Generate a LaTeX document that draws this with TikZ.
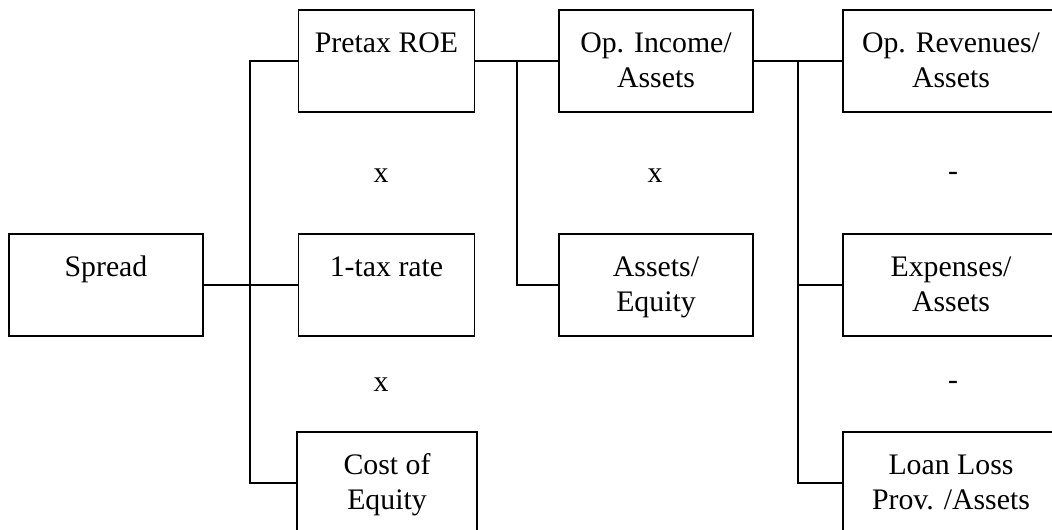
\documentclass[tikz,border=0pt]{standalone}
\usepackage{fontspec}
\setmainfont{Liberation Serif}
\usetikzlibrary{positioning}

\tikzset{
	box/.style={draw, line width=0.6pt, minimum height=51pt, inner sep=0pt},
	boxtext/.style={anchor=base, align=center, inner sep=0pt,
		font=\fontsize{14.9}{17.5}\selectfont, label distance=-21.5pt},
	boxtexttwo/.style={boxtext, label distance=-39pt},
	wire/.style={line width=0.6pt},
	sign/.style={font=\fontsize{14.9}{17.5}\selectfont}
}

\begin{document}
\begin{tikzpicture}[x=0.5pt, y=-0.5pt]
		%%%%% START %%%%%
		\useasboundingbox (0, 0) rectangle (1052, 529);
		\clip (0, 0) rectangle (1052, 529);
		
		% left
		\node[box, minimum width=97pt, label={[boxtext]north:Spread}] (spread) at (106, 285) {};
		
		% second column
		\node[box, minimum width=88pt, label={[boxtext]north:Pretax ROE}] (roe) at (386.5, 61) {};
		\node[box, minimum width=88pt, label={[boxtext]north:1-tax rate}] (tax) at (386.5, 285) {};
		\node[box, minimum width=90pt, label={[boxtexttwo]north:Cost of\\Equity}] (coe) at (387, 483) {};
		
		% third column
		\node[box, minimum width=97pt, label={[boxtexttwo]north:Op. Income/\\Assets}] (opinc) at (656, 61) {};
		\node[box, minimum width=97pt, label={[boxtexttwo]north:Assets/\\Equity}] (lev) at (656, 285) {};
		
		% fourth column
		\node[box, minimum width=108pt, label={[boxtexttwo]north:Op. Revenues/\\Assets}] (oprev) at (951, 61) {};
		\node[box, minimum width=108pt, label={[boxtexttwo]north:Expenses/\\Assets}] (exp) at (951, 285) {};
		\node[box, minimum width=108pt, label={[boxtexttwo]north:Loan Loss\\Prov. /Assets}] (llp) at (951, 483) {};
		
		% operators
		\node[sign] (x1) at (381, 176) {x};
		\node[sign] (x2) at (381, 385) {x};
		\node[sign] (x3) at (655, 176) {x};
		\node[sign] (m1) at (953, 176) {-};
		\node[sign] (m2) at (953, 385) {-};
		
		% connectors
		\coordinate (j1) at (250, 285);
		\coordinate (j2) at (517, 61);
		\coordinate (j3) at (798, 61);
		
		\draw[wire] (spread.east) -- (j1);
		\draw[wire] (roe.west) -| (j1) |- (coe.west);
		\draw[wire] (j1) -- (tax.west);
		
		\draw[wire] (roe.east) -- (opinc.west);
		\draw[wire] (j2) |- (lev.west);
		
		\draw[wire] (opinc.east) -- (oprev.west);
		\draw[wire] (j3) |- (exp.west);
		\draw[wire] (j3) |- (llp.west);
		%%%%% END %%%%%
	\end{tikzpicture}
\end{document}
